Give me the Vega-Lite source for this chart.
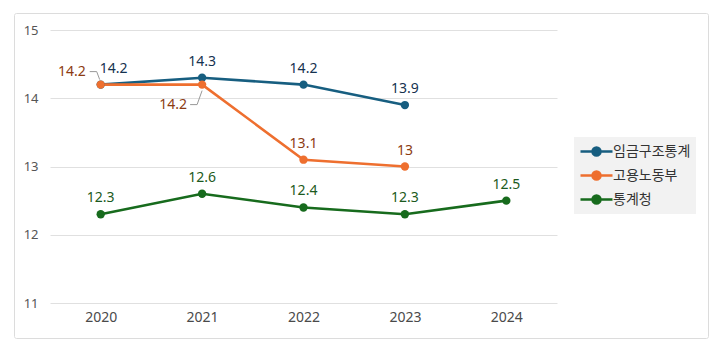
{
  "$schema": "https://vega.github.io/schema/vega-lite/v6.json",
  "width": 694,
  "height": 325,
  "padding": {"left": 14, "top": 13, "right": 6, "bottom": 15},
  "background": "white",
  "config": {
    "view": {"stroke": "#dcdcdc", "strokeWidth": 1, "cornerRadius": 2},
    "font": "Noto Sans",
    "axis": {"domain": false, "ticks": false, "title": null, "labelFont": "Noto Sans", "labelFontSize": 13, "labelColor": "#555555", "gridColor": "#e0e0e0", "gridWidth": 1}
  },
  "datasets": {
    "d": [
      {"year": "2020", "series": "임금구조통계", "value": 14.2},
      {"year": "2021", "series": "임금구조통계", "value": 14.3},
      {"year": "2022", "series": "임금구조통계", "value": 14.2},
      {"year": "2023", "series": "임금구조통계", "value": 13.9},
      {"year": "2020", "series": "고용노동부", "value": 14.2},
      {"year": "2021", "series": "고용노동부", "value": 14.2},
      {"year": "2022", "series": "고용노동부", "value": 13.1},
      {"year": "2023", "series": "고용노동부", "value": 13.0},
      {"year": "2020", "series": "통계청", "value": 12.3},
      {"year": "2021", "series": "통계청", "value": 12.6},
      {"year": "2022", "series": "통계청", "value": 12.4},
      {"year": "2023", "series": "통계청", "value": 12.3},
      {"year": "2024", "series": "통계청", "value": 12.5}
    ]
  },
  "data": {"name": "d"},
  "encoding": {
    "x": {"field": "year", "type": "ordinal", "sort": null,
      "scale": {"type": "point", "padding": 0.5, "range": [36, 543]},
      "axis": {"labelAngle": 0, "offset": -35, "labelPadding": 7, "grid": false, "labelFontSize": 14, "labelColor": "#4a4a4a"}},
    "y": {"field": "value", "type": "quantitative",
      "scale": {"domain": [11, 15], "range": [290, 17], "nice": false, "zero": false},
      "axis": {"values": [11, 12, 13, 14, 15], "format": "d", "offset": -30, "labelPadding": 6, "grid": true}}
  },
  "layer": [
    {
      "mark": {"type": "line", "strokeWidth": 2.6},
      "encoding": {
        "color": {"field": "series", "type": "nominal",
          "scale": {"domain": ["임금구조통계", "고용노동부", "통계청"], "range": ["#175e80", "#ee6f2f", "#176b1d"]},
          "legend": {"title": null, "orient": "none", "legendX": 560, "legendY": 124, "fillColor": "#f2f2f2", "padding": 5, "rowPadding": 5,
            "labelFont": "Noto Sans CJK KR", "labelFontSize": 14, "labelColor": "#333333", "labelOffset": 7, "symbolOffset": 8,
            "symbolType": "M-2,0H2M-0.5,0A0.5,0.5 0 1,0 0.5,0A0.5,0.5 0 1,0 -0.5,0Z", "symbolSize": 256, "symbolStrokeWidth": 2.5}}
      }
    },
    {
      "mark": {"type": "point", "filled": true, "size": 70, "opacity": 1},
      "encoding": {"color": {"field": "series", "type": "nominal"}}
    },
    {
      "transform": [{"filter": "!((datum.series == '고용노동부' && (datum.year == '2020' || datum.year == '2021')) || (datum.series == '임금구조통계' && datum.year == '2020'))"}],
      "mark": {"type": "text", "baseline": "bottom", "dy": -9, "fontSize": 14},
      "encoding": {
        "text": {"field": "value", "type": "quantitative"},
        "fill": {"field": "series", "type": "nominal", "legend": null,
          "scale": {"domain": ["임금구조통계", "고용노동부", "통계청"], "range": ["#15324f", "#8c3b12", "#1c5a20"]}}
      }
    },
    {
      "transform": [{"filter": "datum.series == '임금구조통계' && datum.year == '2020'"}],
      "mark": {"type": "text", "baseline": "bottom", "align": "left", "dy": -9, "dx": -1, "fontSize": 14, "fill": "#15324f"},
      "encoding": {"text": {"field": "value", "type": "quantitative", "format": ".1f"}}
    },
    {
      "transform": [{"filter": "datum.series == '고용노동부' && datum.year == '2020'"}],
      "mark": {"type": "text", "baseline": "middle", "align": "right", "dy": -13, "dx": -15, "fontSize": 14, "fill": "#8c3b12"},
      "encoding": {"text": {"field": "value", "type": "quantitative", "format": ".1f"}}
    },
    {
      "transform": [{"filter": "datum.series == '고용노동부' && datum.year == '2021'"}],
      "mark": {"type": "text", "baseline": "middle", "align": "right", "dy": 20, "dx": -15, "fontSize": 14, "fill": "#8c3b12"},
      "encoding": {"text": {"field": "value", "type": "quantitative", "format": ".1f"}}
    },
    {
      "transform": [{"filter": "datum.series == '고용노동부' && datum.year == '2020'"}],
      "mark": {"type": "rule", "color": "#999999", "strokeWidth": 1, "xOffset": -11, "yOffset": -13, "x2Offset": -4, "y2Offset": -13},
      "encoding": {"x2": {"field": "year"}, "y2": {"field": "value"}}
    },
    {
      "transform": [{"filter": "datum.series == '고용노동부' && datum.year == '2020'"}],
      "mark": {"type": "rule", "color": "#999999", "strokeWidth": 1, "xOffset": -4, "yOffset": -13, "x2Offset": -1, "y2Offset": -5},
      "encoding": {"x2": {"field": "year"}, "y2": {"field": "value"}}
    },
    {
      "transform": [{"filter": "datum.series == '고용노동부' && datum.year == '2021'"}],
      "mark": {"type": "rule", "color": "#999999", "strokeWidth": 1, "xOffset": -12, "yOffset": 20, "x2Offset": -5, "y2Offset": 20},
      "encoding": {"x2": {"field": "year"}, "y2": {"field": "value"}}
    },
    {
      "transform": [{"filter": "datum.series == '고용노동부' && datum.year == '2021'"}],
      "mark": {"type": "rule", "color": "#999999", "strokeWidth": 1, "xOffset": -5, "yOffset": 20, "x2Offset": 0, "y2Offset": 6},
      "encoding": {"x2": {"field": "year"}, "y2": {"field": "value"}}
    }
  ]
}
